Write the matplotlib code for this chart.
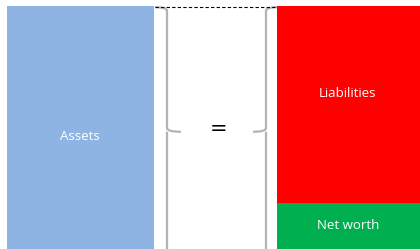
import matplotlib.pyplot as plt
from matplotlib.path import Path
from matplotlib.patches import PathPatch

# Balance sheet values (share of total)
assets = 100
liabilities = 81
net_worth = 19
labels = ["Assets", "Liabilities", "Net worth"]

fig = plt.figure(figsize=(4.2, 2.49), dpi=100)
ax = fig.add_axes([0, 0, 1, 1])
ax.set_xlim(0, 420)
ax.set_ylim(0, assets * 249 / 243)
ax.axis("off")

# left column: assets
ax.bar(7, assets, width=147, align="edge", color="#8eb4e3")
ax.text(80, assets * 0.465, labels[0], color="white", ha="center", va="center",
        fontsize=9.5, family="Open Sans")

# right column: liabilities stacked on net worth
ax.bar(277, net_worth, width=143, align="edge", color="#00b050")
ax.bar(277, liabilities, width=143, bottom=net_worth, align="edge", color="#ff0000")
ax.text(348, net_worth + liabilities * 0.555, labels[1], color="white", ha="center",
        va="center", fontsize=9.5, family="Open Sans")
ax.text(348, net_worth / 2, labels[2], color="white", ha="center", va="center",
        fontsize=9.5, family="Open Sans")

total = liabilities + net_worth
ax.plot([155, 277], [total - 0.3, total - 0.3], color="black", lw=0.8,
        ls=(0, (3, 2)))


def brace(x_edge, x_line, x_tip, top, bottom):
    mid = (top + bottom) / 2
    c = 1.5
    verts = [(x_edge, top), (x_line, top), (x_line, top - c),
             (x_line, mid + c), (x_line, mid), (x_tip, mid),
             (x_line, mid), (x_line, mid - c),
             (x_line, bottom)]
    codes = [Path.MOVETO, Path.CURVE3, Path.CURVE3,
             Path.LINETO, Path.CURVE3, Path.CURVE3,
             Path.MOVETO, Path.LINETO,
             Path.LINETO]
    ax.add_patch(PathPatch(Path(verts, codes), fill=False, ec="#b3b3b3", lw=1.6))


brace(155, 167, 181, total - 0.5, -3)
brace(277, 266, 253, total - 0.5, -3)

ax.text(219, total / 2 - 0.5, "=", ha="center", va="center", fontsize=15,
        family="DejaVu Sans")

fig.savefig("out.png", dpi=100)
